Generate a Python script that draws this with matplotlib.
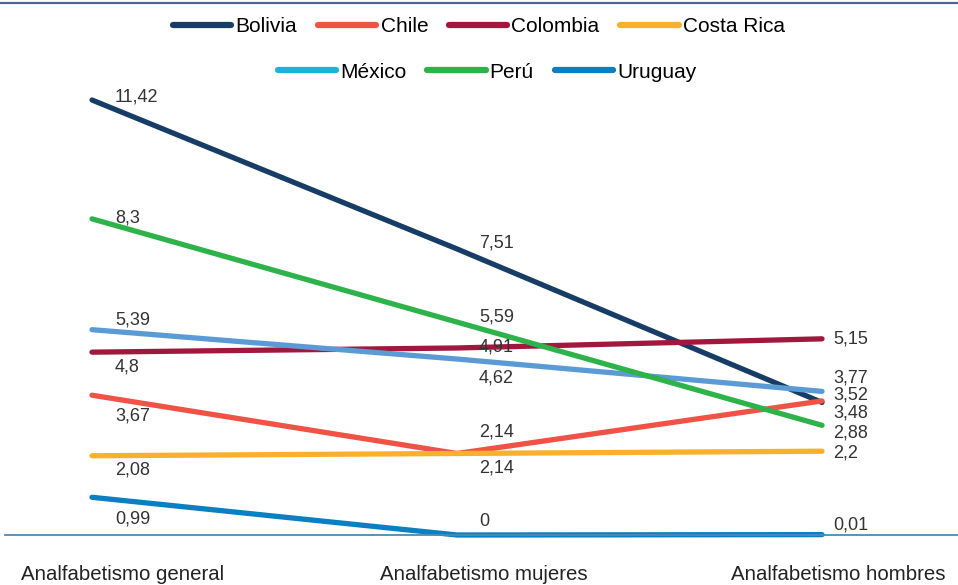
import matplotlib.pyplot as plt
from matplotlib.lines import Line2D

plt.rcParams['font.family'] = ['Liberation Sans', 'DejaVu Sans']

categorias = ["Analfabetismo general", "Analfabetismo mujeres", "Analfabetismo hombres"]
paises = ["Bolivia", "Chile", "Colombia", "Costa Rica", "México", "Perú", "Uruguay"]

bolivia = [11.42, 7.51, 3.48]
chile = [3.67, 2.14, 3.52]
colombia = [4.8, 4.91, 5.15]
costa_rica = [2.08, 2.14, 2.2]
mexico = [5.39, 4.62, 3.77]
peru = [8.3, 5.59, 2.88]
uruguay = [0.99, 0, 0.01]

series = [bolivia, chile, colombia, costa_rica, mexico, peru, uruguay]

colores = ["#173c66", "#f05246", "#a1173d", "#fbb02d", "#5b9bd5", "#2db34a", "#0a7fc1"]
colores_leyenda = ["#173c66", "#f05246", "#a1173d", "#fbb02d", "#1ab3dc", "#2db34a", "#0a7fc1"]

# desplazamiento vertical de cada etiqueta (pixeles, negativo = hacia arriba)
desp_y = {
    "Bolivia": [-3, -6, 11],
    "Chile": [21, -21, -6],
    "Colombia": [15, -1, 0],
    "Costa Rica": [14, 15, 2],
    "México": [-10, 19, -13],
    "Perú": [-1, -5, 8],
    "Uruguay": [22, -14, -10],
}
desp_x = [23, 22, 11]

fig = plt.figure(figsize=(9.58, 5.85), dpi=100)
ax = fig.add_axes([5 / 958, 50 / 585, 953 / 958, 435 / 585])

x = range(len(categorias))
for nombre, valores, color in zip(paises, series, colores):
    ax.plot(x, valores, color=color, lw=3.8, solid_capstyle='round', clip_on=False)
    for i, v in enumerate(valores):
        ax.annotate(f"{v:g}".replace('.', ','), xy=(i, v), xytext=(desp_x[i], -desp_y[nombre][i]),
                    textcoords='offset pixels', ha='left', va='center', fontsize=13, color='#333333')

ax.set_ylim(0, 11.42)
ax.set_xlim(-87 / 365, 2 + 136 / 365)
ax.set_yticks([])
ax.set_xticks([])
for s in ['top', 'right', 'left']:
    ax.spines[s].set_visible(False)
ax.spines['bottom'].set_color('#4a8ab5')
ax.spines['bottom'].set_linewidth(1.3)

# etiquetas de categoria bajo la linea base
for i, (cat, dx) in enumerate(zip(categorias, [31, 27, 16])):
    ax.annotate(cat, xy=(i, 0), xycoords=('data', 'axes fraction'), xytext=(dx, -39),
                textcoords='offset pixels', ha='center', va='center', fontsize=14.7, color='#222222',
                annotation_clip=False)

# leyenda en dos filas
handles = [Line2D([], [], color=c, lw=4.5, solid_capstyle='round') for c in colores_leyenda]
fig.legend(handles[:4], paises[:4], loc='center', bbox_to_anchor=(479 / 958, 1 - 27 / 585), ncol=4,
           frameon=False, fontsize=15, handlelength=2.8, handletextpad=0.2, columnspacing=1.0)
fig.legend(handles[4:], paises[4:], loc='center', bbox_to_anchor=(487 / 958, 1 - 72 / 585), ncol=3,
           frameon=False, fontsize=15, handlelength=2.8, handletextpad=0.2, columnspacing=1.0)

fig.add_artist(Line2D([0, 1], [1 - 3 / 585, 1 - 3 / 585], color='#4a6790', lw=1.6, transform=fig.transFigure))

fig.savefig("out.png", dpi=100)
